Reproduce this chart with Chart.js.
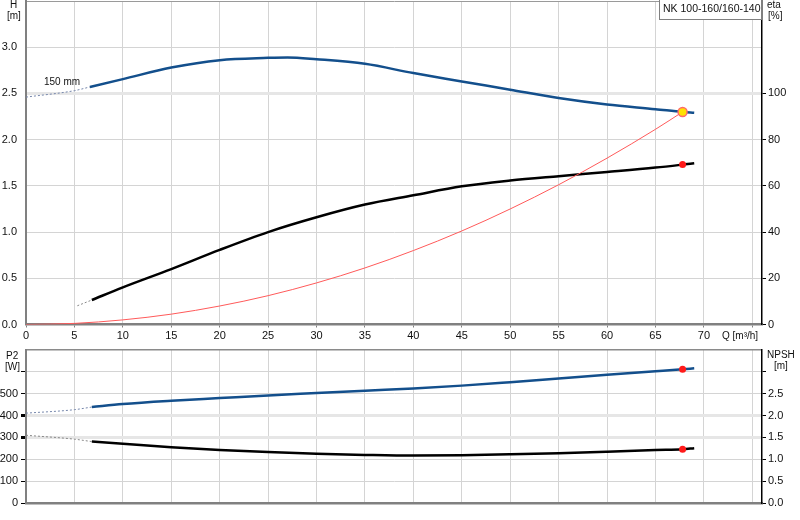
<!DOCTYPE html>
<html>
<head>
<meta charset="utf-8">
<script src="https://cdn.jsdelivr.net/npm/chart.js@4.4.1/dist/chart.umd.min.js"></script>
<style>
  body { margin: 0; background: #fff; }
  #wrap { position: relative; width: 800px; height: 520px; overflow: hidden;
    font-family: "Liberation Sans", Arial, sans-serif; font-size: 10px; color: #111; }
  canvas { position: absolute; left: 0; }
  .t { position: absolute; white-space: nowrap; line-height: 10px; }
  .box { position: absolute; left: 659px; top: -1px; width: 101px; height: 19px;
    border: 1px solid #808080; background: #fff; }
</style>
</head>
<body>
<div id="wrap">
  <canvas id="top" width="800" height="345" style="top:0"></canvas>
  <canvas id="bottom" width="800" height="175" style="top:345px"></canvas>

  <div class="box"></div>
  <div class="t" style="left:663px;top:3px;font-size:10.5px">NK 100-160/160-140</div>
  <div class="t" style="left:10px;top:0px">H</div>
  <div class="t" style="left:7px;top:11px">[m]</div>
  <div class="t" style="left:767px;top:0px">eta</div>
  <div class="t" style="left:768px;top:11px">[%]</div>
  <div class="t" style="left:44px;top:77px">150 mm</div>
  <div class="t" style="left:722px;top:331px">Q [m³/h]</div>
  <div class="t" style="left:6px;top:351px">P2</div>
  <div class="t" style="left:5px;top:362px">[W]</div>
  <div class="t" style="left:767px;top:350px">NPSH</div>
  <div class="t" style="left:774px;top:361px">[m]</div>
</div>

<script>
// flow points (m3/h) and values
const qHead = [0, 5, 6.6, 10, 15, 20, 25, 27, 30, 35, 40, 45, 50, 55, 60, 65, 67.8, 69]
const head = [2.46, 2.53, 2.57, 2.655, 2.78, 2.86, 2.885, 2.89, 2.87, 2.82, 2.72, 2.63, 2.54, 2.45, 2.38, 2.33, 2.30, 2.29]

const qEta = [5.3, 6.8, 10, 15, 20, 25, 30, 35, 40, 45, 50, 55, 60, 65, 67.8, 69]
const eta = [8.1, 10.6, 16.1, 24.0, 32.3, 40.0, 46.4, 51.9, 55.9, 59.8, 62.3, 64.2, 66.0, 67.9, 69.2, 69.8]

const qSystem = [0, 5, 10, 15, 20, 25, 30, 35, 40, 45, 50, 55, 60, 65, 67.8]
const systemHead = [0, 0.012, 0.05, 0.112, 0.2, 0.312, 0.45, 0.612, 0.8, 1.012, 1.25, 1.512, 1.8, 2.112, 2.3]

const qPower = [0, 5, 6.8, 10, 15, 20, 25, 30, 35, 40, 45, 50, 55, 60, 65, 67.8, 69]
const p2 = [411, 427, 439, 453, 468, 480, 492, 503, 514, 524, 537, 553, 570, 587, 603, 612, 616]
const npsh = [1.55, 1.46, 1.405, 1.355, 1.275, 1.215, 1.165, 1.125, 1.10, 1.085, 1.095, 1.115, 1.14, 1.175, 1.215, 1.23, 1.255]

// operating point
const qDuty = [67.8]
const dutyHead = [2.30]
const dutyEta = [69.2]
const dutyP2 = [612]
const dutyNpsh = [1.23]

const qTicks = [0, 5, 10, 15, 20, 25, 30, 35, 40, 45, 50, 55, 60, 65, 70, 75]

const BLUE = '#134f8c'
const GRID = '#d4d4d4'
const NONE = 'rgba(0,0,0,0)'

Chart.defaults.font.family = '"Liberation Sans", Arial, sans-serif'
Chart.defaults.font.size = 11
Chart.defaults.color = '#111'

const pts = (q, v) => q.map((x, i) => ({ x, y: v[i] }))
const part = (q, v, a, b) => pts(q.slice(a, b), v.slice(a, b))

const dashed = (data, axis, color) => ({
  data, yAxisID: axis, borderColor: color, borderWidth: 1, borderDash: [2, 2]
})
const solid = (data, axis, color, width) => ({
  data, yAxisID: axis, borderColor: color, borderWidth: width
})
const marker = (data, axis, fill, border, r) => ({
  data, yAxisID: axis, showLine: false, pointRadius: r,
  pointBackgroundColor: fill, pointBorderColor: border, pointBorderWidth: border === NONE ? 0 : 1.5
})

// pin axis sizes so the plot areas line up with the picture
const fixSize = (w, h) => s => {
  if (w !== null) s.width = w
  if (h !== null) s.height = h
  s.paddingTop = 0
  s.paddingBottom = 0
  s.paddingLeft = 0
  s.paddingRight = 0
}

const xScale = (labels, height) => ({
  type: 'linear', min: 0, max: 76,
  afterBuildTicks: s => { s.ticks = qTicks.map(v => ({ value: v })) },
  ticks: {
    display: labels, padding: 2, maxRotation: 0, autoSkip: false,
    callback: v => (v > 70 ? '' : v)
  },
  grid: { color: GRID, lineWidth: 1, drawTicks: labels, tickLength: 3, tickColor: '#808080' },
  border: { color: '#808080', width: 2.5 },
  afterFit: fixSize(null, height)
})

const baseOptions = (scales, top) => ({
  responsive: false,
  animation: false,
  events: [],
  layout: { autoPadding: false, padding: { top, left: 0, right: 0, bottom: 0 } },
  elements: { point: { radius: 0 }, line: { cubicInterpolationMode: 'monotone', fill: false } },
  plugins: { legend: { display: false }, tooltip: { enabled: false } },
  scales
})

new Chart(document.getElementById('top'), {
  type: 'line',
  data: {
    datasets: [
      marker(pts(qDuty, dutyHead), 'h', '#ffe100', '#ff6a6a', 4.5),
      marker(pts(qDuty, dutyEta), 'eta', '#ff1a1a', NONE, 3.5),
      solid(pts(qSystem, systemHead), 'h', '#ff5a5a', 1),
      dashed(part(qHead, head, 0, 3), 'h', '#7586ab'),
      solid(part(qHead, head, 2), 'h', BLUE, 2.5),
      dashed(part(qEta, eta, 0, 2), 'eta', '#888'),
      solid(part(qEta, eta, 1), 'eta', '#000', 2.5)
    ]
  },
  options: baseOptions({
    x: xScale(true, 20.5),
    h: {
      type: 'linear', position: 'left', min: 0, max: 3.5,
      ticks: { stepSize: 0.5, padding: 9, callback: v => (v > 3 ? '' : v.toFixed(1)) },
      grid: {
        drawTicks: false,
        color: c => (c.tick.value === 3.5 ? '#9a9a9a' : c.tick.value === 2.5 ? '#e6e6e6' : GRID),
        lineWidth: c => (c.tick.value === 2.5 ? 3 : 1)
      },
      border: { color: '#808080', width: 2 },
      afterFit: fixSize(26, null)
    },
    eta: {
      type: 'linear', position: 'right', min: 0, max: 140,
      ticks: { stepSize: 20, padding: 2, callback: v => (v > 100 ? '' : v) },
      grid: { drawOnChartArea: false, tickLength: 4, tickColor: c => (c.tick.value > 100 ? NONE : '#000') },
      border: { color: '#000', width: 1.5 },
      afterFit: fixSize(38, null)
    }
  }, 1)
})

new Chart(document.getElementById('bottom'), {
  type: 'line',
  data: {
    datasets: [
      marker(pts(qDuty, dutyP2), 'p2', '#ff1a1a', NONE, 3.5),
      marker(pts(qDuty, dutyNpsh), 'npsh', '#ff1a1a', NONE, 3.5),
      dashed(part(qPower, p2, 0, 3), 'p2', '#7586ab'),
      solid(part(qPower, p2, 2), 'p2', BLUE, 2.5),
      dashed(part(qPower, npsh, 0, 3), 'npsh', '#888'),
      solid(part(qPower, npsh, 2), 'npsh', '#000', 2.5)
    ]
  },
  options: baseOptions({
    x: xScale(false, 17),
    p2: {
      type: 'linear', position: 'left', min: 0, max: 700,
      ticks: { stepSize: 100, padding: 3, callback: v => (v > 500 ? '' : v) },
      grid: {
        tickLength: 5,
        tickColor: c => (c.tick.value >= 700 ? NONE : '#000'),
        color: c => (c.tick.value === 700 ? '#8a8a8a' : (c.tick.value === 300 || c.tick.value === 400) ? '#e6e6e6' : GRID),
        lineWidth: c => ((c.tick.value === 300 || c.tick.value === 400) ? 3 : c.tick.value === 700 ? 1.5 : 1)
      },
      border: { color: '#808080', width: 2 },
      afterFit: fixSize(26, null)
    },
    npsh: {
      type: 'linear', position: 'right', min: 0, max: 3.5,
      ticks: { stepSize: 0.5, padding: 2, callback: v => (v > 2.5 ? '' : v.toFixed(1)) },
      grid: { drawOnChartArea: false, tickLength: 4, tickColor: c => (c.tick.value >= 3.5 ? NONE : '#000') },
      border: { color: '#000', width: 1.5 },
      afterFit: fixSize(38, null)
    }
  }, 5)
})
</script>
</body>
</html>
